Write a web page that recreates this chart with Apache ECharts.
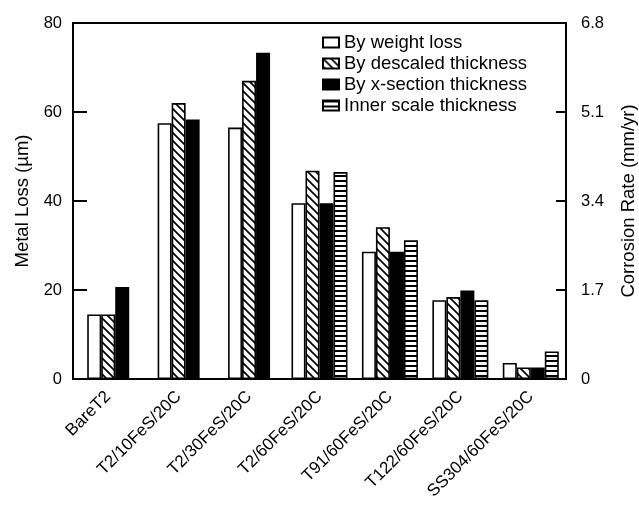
<!DOCTYPE html>
<html>
<head>
<meta charset="utf-8">
<script src="https://cdn.jsdelivr.net/npm/echarts@6/dist/echarts.min.js"></script>
<style>
  html, body { margin: 0; padding: 0; background: #fff; }
  #main { width: 639px; height: 515px; }
</style>
</head>
<body>
<div id="main"></div>
<script>
const categories = ['BareT2', 'T2/10FeS/20C', 'T2/30FeS/20C', 'T2/60FeS/20C', 'T91/60FeS/20C', 'T122/60FeS/20C', 'SS304/60FeS/20C'];
const seriesNames = ['By weight loss', 'By descaled thickness', 'By x-section thickness', 'Inner scale thickness'];
const weightLoss = [14.5, 57.5, 56.5, 39.5, 28.6, 17.7, 3.6];
const descaled = [14.5, 62, 67, 46.8, 34.1, 18.4, 2.6];
const xSection = [20.7, 58.3, 73.3, 39.5, 28.6, 19.9, 2.6];
const innerScale = [null, null, null, 46.5, 31.2, 17.7, 6.2];
const leftTicks = [0, 20, 40, 60, 80];
const rightTicks = [0, 1.7, 3.4, 5.1, 6.8];

function makePattern(kind) {
  const c = document.createElement('canvas');
  const ctx = c.getContext('2d');
  if (kind === 'diag') {
    c.width = 8; c.height = 8;
    ctx.fillStyle = '#fff';
    ctx.fillRect(0, 0, 8, 8);
    ctx.strokeStyle = '#000';
    ctx.lineWidth = 1.7;
    ctx.beginPath();
    ctx.moveTo(-1, -1); ctx.lineTo(9, 9);
    ctx.moveTo(-1, 7); ctx.lineTo(1, 9);
    ctx.moveTo(7, -1); ctx.lineTo(9, 1);
    ctx.stroke();
  } else {
    c.width = 4; c.height = 5;
    ctx.fillStyle = '#fff';
    ctx.fillRect(0, 0, 4, 5);
    ctx.fillStyle = '#000';
    ctx.fillRect(0, 0, 4, 2);
  }
  return { image: c, repeat: 'repeat' };
}

const fills = ['#fff', makePattern('diag'), '#000', makePattern('horiz')];
const allValues = [weightLoss, descaled, xSection, innerScale];

const series = [];
// categories without inner-scale value get a centred 3-bar group (hidden axis 1)
allValues.forEach((vals, i) => {
  if (i < 3) {
    series.push({
      name: seriesNames[i],
      type: 'bar',
      xAxisIndex: 1,
      barWidth: 14,
      barGap: '0%',
      data: vals.map((v, k) => innerScale[k] == null ? v : '-'),
      itemStyle: { color: fills[i], borderColor: '#000', borderWidth: 1.6 }
    });
  }
  series.push({
    name: seriesNames[i],
    type: 'bar',
    xAxisIndex: 0,
    barWidth: 14,
    barGap: '0%',
    data: vals.map((v, k) => innerScale[k] != null ? v : '-'),
    itemStyle: { color: fills[i], borderColor: '#000', borderWidth: 1.6 }
  });
});

const font = 'Liberation Sans, Arial, sans-serif';
const chart = echarts.init(document.getElementById('main'));
chart.setOption({
  animation: false,
  textStyle: { fontFamily: font, color: '#000' },
  grid: {
    left: 73, right: 73, top: 23, bottom: 136,
    outerBoundsMode: 'none',
    show: true, borderColor: '#000', borderWidth: 2
  },
  legend: {
    data: seriesNames,
    orient: 'vertical',
    left: 317,
    top: 28,
    icon: 'rect',
    itemWidth: 16,
    itemHeight: 10,
    itemGap: 2,
    textStyle: { fontSize: 18.5, fontFamily: font, color: '#000' }
  },
  xAxis: [
    {
      type: 'category',
      data: categories,
      axisLine: { lineStyle: { color: '#000', width: 2 } },
      axisTick: { show: false },
      axisLabel: { rotate: 45, fontSize: 17, color: '#000', margin: 15, interval: 0 }
    },
    {
      type: 'category',
      data: categories,
      show: false
    }
  ],
  yAxis: [
    {
      type: 'value',
      min: 0, max: 80, interval: 20,
      name: 'Metal Loss (µm)',
      nameLocation: 'middle',
      nameGap: 41,
      nameTextStyle: { fontSize: 18.5, color: '#000' },
      splitLine: { show: false },
      axisLine: { show: true, lineStyle: { color: '#000', width: 2 } },
      axisTick: { show: true, inside: true, length: 14, lineStyle: { width: 2 } },
      axisLabel: { fontSize: 16.5, color: '#000', margin: 11,
        formatter: v => leftTicks.includes(v) ? String(v) : '' }
    },
    {
      type: 'value',
      position: 'right',
      min: 0, max: 6.8, interval: 1.7,
      name: 'Corrosion Rate (mm/yr)',
      nameLocation: 'middle',
      nameGap: 53,
      nameTextStyle: { fontSize: 18.5, color: '#000' },
      splitLine: { show: false },
      axisLine: { show: true, lineStyle: { color: '#000', width: 2 } },
      axisTick: { show: true, inside: true, length: 10, lineStyle: { width: 2 } },
      axisLabel: { fontSize: 16.5, color: '#000', margin: 15,
        formatter: v => {
          const t = rightTicks.find(r => Math.abs(r - v) < 1e-6);
          return t === undefined ? '' : String(t);
        } }
    }
  ],
  series: series
});
</script>
</body>
</html>
